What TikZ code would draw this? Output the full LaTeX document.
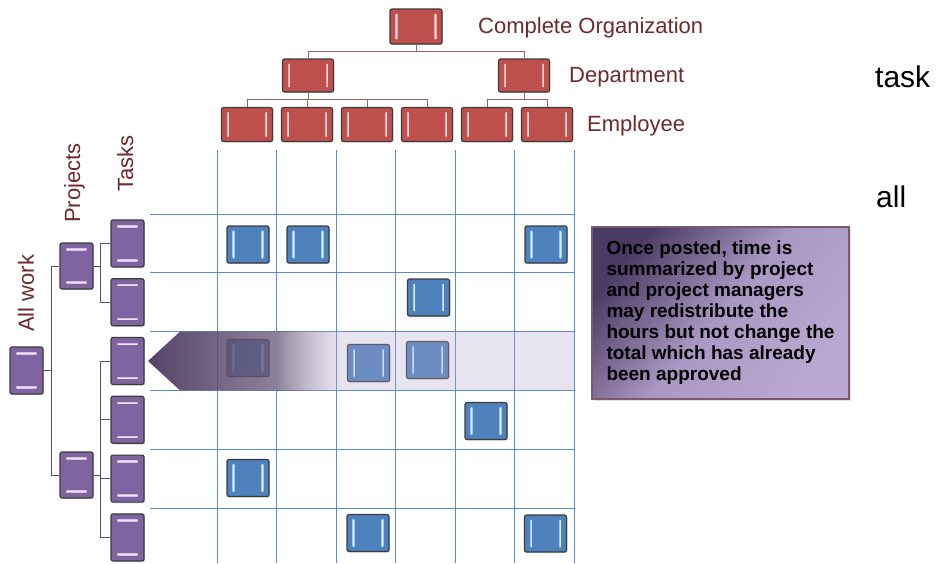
\documentclass[tikz,border=0pt]{standalone}
\usepackage{fontspec}
\setmainfont{Liberation Sans}
\usetikzlibrary{shadows, fadings}

\definecolor{orgred}{HTML}{C0504D}
\definecolor{orgshine}{HTML}{F0A8A6}
\definecolor{cellblue}{HTML}{4F81BD}
\definecolor{cellshine}{HTML}{9CCCF4}
\definecolor{workpurple}{HTML}{8064A2}
\definecolor{workshine}{HTML}{D4C0EE}
\definecolor{boxedge}{HTML}{3C3C3C}
\definecolor{gridblue}{HTML}{5B8CCB}
\definecolor{labelred}{HTML}{6E2A2A}
\definecolor{orgline}{HTML}{9A6464}
\definecolor{workline}{HTML}{5C4C72}
\definecolor{banddark}{HTML}{54446A}
\definecolor{bandmid}{HTML}{695877}
\definecolor{bandlight}{HTML}{B2A8CD}
\definecolor{notedark}{HTML}{4B3A63}
\definecolor{notemid}{HTML}{AA97C3}
\definecolor{notelight}{HTML}{BBA8D2}
\definecolor{noteedge}{HTML}{7C5A6E}

\tikzfading[name=headfade, left color=transparent!0, right color=transparent!25]
\tikzfading[name=tailfade, left color=transparent!25, right color=transparent!70]

\tikzset{
  tile/.style={rectangle, rounded corners=2pt, draw=boxedge, line width=1.2pt, inner sep=0pt,
    drop shadow={shadow xshift=1.2pt, shadow yshift=-1.2pt, opacity=0.3}},
  % glossy strips on the left and right
  vshine/.style={path picture={
    \draw[#1, line width=0.9pt, double=#1!35!white, double distance=0.6pt, line cap=round]
      ([xshift=6.5pt, yshift=-5.5pt]path picture bounding box.north west) -- ([xshift=6.5pt, yshift=5.5pt]path picture bounding box.south west)
      ([xshift=-6.5pt, yshift=-5.5pt]path picture bounding box.north east) -- ([xshift=-6.5pt, yshift=5.5pt]path picture bounding box.south east);}},
  % glossy strips at the top and bottom
  hshine/.style={path picture={
    \draw[#1, line width=0.9pt, double=#1!35!white, double distance=0.6pt, line cap=round]
      ([xshift=7pt, yshift=-6.5pt]path picture bounding box.north west) -- ([xshift=-7pt, yshift=-6.5pt]path picture bounding box.north east)
      ([xshift=7pt, yshift=6.5pt]path picture bounding box.south west) -- ([xshift=-7pt, yshift=6.5pt]path picture bounding box.south east);}},
  orgbox/.style={tile, fill=orgred, vshine=orgshine, minimum width=51pt, minimum height=34pt},
  cellbox/.style={tile, fill=cellblue, vshine=cellshine, minimum width=42pt, minimum height=37pt},
  workbox/.style={tile, fill=workpurple, hshine=workshine, minimum width=33pt, minimum height=47pt},
  orgwire/.style={draw=orgline, line width=0.9pt},
  workwire/.style={draw=workline, line width=0.9pt},
  gridline/.style={draw=gridblue, line width=0.9pt},
  tier/.style={text=labelred, inner sep=0pt, font=\fontsize{22}{26}\selectfont},
  aside/.style={text=black, inner sep=0pt, font=\fontsize{30}{34}\selectfont},
  notebox/.style={draw=noteedge, line width=1.2pt, inner sep=0pt, align=left,
    top color=notedark, bottom color=notelight, middle color=notemid, shading angle=50,
    font=\bfseries\fontsize{19}{21}\selectfont, text=black,
    drop shadow={shadow xshift=1.5pt, shadow yshift=-1.5pt, opacity=0.25}}
}

\begin{document}
\begin{tikzpicture}[x=1pt, y=-1pt]
\useasboundingbox[fill=white] (0,0) rectangle (948,563);

% time grid
\foreach \c in {0,...,6}
  \draw[gridline] (217+59.5*\c,150) -- (217+59.5*\c,563);
\foreach \r in {0,...,5}
  \draw[gridline] (150,214+58.8*\r) -- (574,214+58.8*\r);

% organization chart
\node[orgbox, minimum width=52pt, minimum height=35pt] (org) at (416,26.5) {};
\node[orgbox, minimum height=33pt] (dept1) at (308,75.5) {};
\node[orgbox, minimum height=33pt] (dept2) at (524,75.5) {};
\foreach \i/\x in {1/247,2/307,3/367,4/427,5/487,6/547}
  \node[orgbox] (emp\i) at (\x,124.5) {};

\draw[orgwire] (org.south) -- ++(0,7) -| (dept1.north);
\draw[orgwire] (org.south) -- ++(0,7) -| (dept2.north);
\foreach \i in {1,...,4}
  \draw[orgwire] (dept1.south) -- ++(0,7) -| (emp\i.north);
\foreach \i in {5,6}
  \draw[orgwire] (dept2.south) -- ++(0,7) -| (emp\i.north);

\node[tier, anchor=base west] (orglabel) at (478,33) {Complete Organization};
\node[tier, anchor=base west] (deptlabel) at (569,82) {Department};
\node[tier, anchor=base west] (emplabel) at (587,131) {Employee};

% work breakdown
\node[workbox] (all) at (26.5,370.5) {};
\node[workbox, minimum height=46pt] (proj1) at (76.5,266) {};
\node[workbox, minimum height=46pt] (proj2) at (76.5,475) {};
\foreach \i in {1,...,6}
  \node[workbox] (task\i) at (127.5,184.6+58.8*\i) {};

\draw[workwire] (all.east) -- ++(8,0) |- (proj1.west);
\draw[workwire] (all.east) -- ++(8,0) |- (proj2.west);
\foreach \i in {1,2}
  \draw[workwire] (proj1.east) -- ++(7,0) |- (task\i.west);
\foreach \i in {3,...,6}
  \draw[workwire] (proj2.east) -- ++(7,0) |- (task\i.west);

\node[tier, rotate=90, anchor=base west] (alllabel) at (34,332) {All work};
\node[tier, rotate=90, anchor=base west] (projlabel) at (80,223) {Projects};
\node[tier, rotate=90, anchor=base west] (tasklabel) at (133,192) {Tasks};

% booked hours
\foreach \n/\x/\y in {11/248/244.5, 12/308/244.5, 16/546/244.5, 24/428.5/297.5,
    31/248/358, 33/368.5/363, 34/427.5/360, 45/486/421, 51/248/478,
    63/368/533, 66/545.5/533.5}
  \node[cellbox] (cell\n) at (\x,\y) {};

% project roll-up band: dark arrow head fading into a light strip
\shade[left color=banddark, right color=bandmid, path fading=headfade]
  (148,361) -- (180,331.6) -- (276.5,331.6) -- (276.5,390.4) -- (180,390.4) -- cycle;
\shade[left color=bandmid, right color=bandlight, path fading=tailfade]
  (276.5,331.6) rectangle (340,390.4);
\fill[bandlight, fill opacity=0.3] (340,331.6) rectangle (574,390.4);
\draw[gridline] (276.5,331.6) -- (276.5,390.4);

\node[notebox, minimum width=257pt, minimum height=172pt] (note) at (720.5,313)
  {Once posted, time is\\summarized by project\\and project managers\\may redistribute the\\hours but not change the\\total which has already\\been approved};

\node[aside, anchor=base west] (taskaside) at (875,87) {task};
\node[aside, anchor=base west] (allaside) at (876,207) {all};
\end{tikzpicture}
\end{document}
